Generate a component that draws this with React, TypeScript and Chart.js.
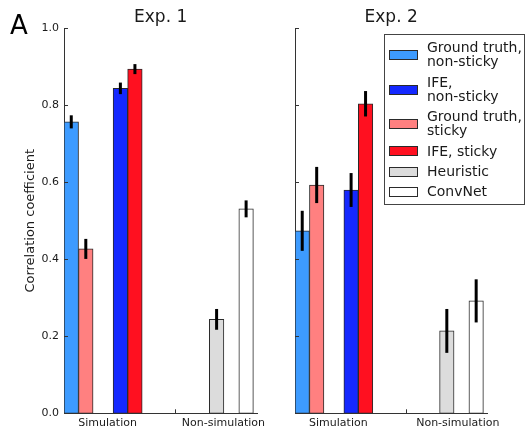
import React, { useEffect, useRef } from 'react';
import { Chart, registerables } from 'chart.js';

Chart.register(...registerables);

const FONT = "'DejaVu Sans', 'Bitstream Vera Sans', sans-serif";
const TEXT = '#1a1a1a';
const EDGE = '#2a2a2a';

// ---- data ----
const seriesLabels = [
  'Ground truth,\nnon-sticky',
  'IFE,\nnon-sticky',
  'Ground truth,\nsticky',
  'IFE, sticky',
  'Heuristic',
  'ConvNet',
];
const categories = ['Simulation', 'Non-simulation'];
const yTickValues = [0, 0.2, 0.4, 0.6, 0.8, 1.0];

const exp1Values = [0.757, 0.844, 0.427, 0.894, 0.244, 0.531];
const exp1Errors = [0.017, 0.015, 0.026, 0.013, 0.027, 0.022];
const exp2Values = [0.474, 0.58, 0.593, 0.804, 0.214, 0.292];
const exp2Errors = [0.052, 0.044, 0.047, 0.033, 0.057, 0.056];

// ---- styles / layout ----
const seriesColors = ['#3d9bff', '#1428ff', '#ff8080', '#ff1020', '#dcdcdc', '#ffffff'];
// bar centres along the x axis, measured in bar widths
const barCentres = [0.5, 3.88, 1.5, 4.88, 10.5, 12.53];
const exp1LabelPositions = [3.0, 10.97];
const exp2LabelPositions = [3.0, 11.26];
const dividerTick = 7.66;
const X_MAX = 13.3;
const H = 429;

type PanelProps = {
  title: string;
  values: number[];
  errors: number[];
  labelPositions: number[];
  left: number;
  width: number;
  yAxisWidth: number;
  padRight: number;
  first: boolean;
};

function Panel(props: PanelProps) {
  const ref = useRef<HTMLCanvasElement>(null);
  useEffect(() => {
    const { title, values, errors, labelPositions, yAxisWidth, padRight, first } = props;
    const canvas = ref.current as HTMLCanvasElement;

    const datasets = seriesLabels.map((label, i) => ({
      label,
      data: [{ x: barCentres[i], y: values[i] }],
      backgroundColor: seriesColors[i],
      borderColor: EDGE,
      borderWidth: 1,
      borderSkipped: false,
      grouped: false,
      barPercentage: 1,
      categoryPercentage: 1,
    }));

    const errorBars = {
      id: 'errorBars',
      afterDatasetsDraw(chart: any) {
        const ys = chart.scales.y;
        const ctx = chart.ctx;
        ctx.save();
        ctx.strokeStyle = '#000';
        ctx.lineWidth = 3;
        chart.data.datasets.forEach((_: any, i: number) => {
          const bar = chart.getDatasetMeta(i).data[0];
          if (!bar) return;
          ctx.beginPath();
          ctx.moveTo(bar.x, ys.getPixelForValue(values[i] + errors[i]));
          ctx.lineTo(bar.x, ys.getPixelForValue(values[i] - errors[i]));
          ctx.stroke();
        });
        ctx.restore();
      },
    };

    const inwardTicks = {
      id: 'inwardTicks',
      afterDraw(chart: any) {
        const { ctx, chartArea } = chart;
        const ys = chart.scales.y;
        const xs = chart.scales.x;
        ctx.save();
        ctx.strokeStyle = '#333';
        ctx.lineWidth = 1;
        ys.ticks.forEach((t: any) => {
          const py = Math.round(ys.getPixelForValue(t.value)) + 0.5;
          ctx.beginPath();
          ctx.moveTo(chartArea.left, py);
          ctx.lineTo(chartArea.left + 4, py);
          ctx.stroke();
        });
        const px = Math.round(xs.getPixelForValue(dividerTick)) + 0.5;
        ctx.beginPath();
        ctx.moveTo(px, chartArea.bottom);
        ctx.lineTo(px, chartArea.bottom - 4);
        ctx.stroke();
        ctx.restore();
      },
    };

    const panelLetter = {
      id: 'panelLetter',
      afterDraw(chart: any) {
        if (!first) return;
        const ctx = chart.ctx;
        ctx.save();
        ctx.fillStyle = '#000';
        ctx.font = `26px ${FONT}`;
        ctx.textBaseline = 'alphabetic';
        ctx.textAlign = 'left';
        ctx.fillText('A', 10, 34);
        ctx.restore();
      },
    };

    const boxLegend = {
      id: 'boxLegend',
      afterDraw(chart: any) {
        if (first) return;
        const { ctx, chartArea } = chart;
        const lh = 14.4;
        const gap = 5.7;
        const right = chart.width - 1.5;
        const left = right - 140;
        const top = chartArea.top + 5.7;
        const items = chart.data.datasets.map((d: any) => ({
          lines: String(d.label).split('\n'),
          color: d.backgroundColor,
        }));
        let h = 6.3 + 5.3;
        items.forEach((it: any, i: number) => {
          h += it.lines.length * lh + (i > 0 ? gap : 0);
        });
        ctx.save();
        ctx.fillStyle = '#fff';
        ctx.fillRect(Math.round(left) + 0.5, Math.round(top) + 0.5, 140, Math.round(h));
        ctx.strokeStyle = '#444';
        ctx.lineWidth = 1;
        ctx.strokeRect(Math.round(left) + 0.5, Math.round(top) + 0.5, 140, Math.round(h));
        ctx.font = `14px ${FONT}`;
        ctx.textBaseline = 'alphabetic';
        ctx.textAlign = 'left';
        let y = top + 6.3;
        items.forEach((it: any, i: number) => {
          if (i > 0) y += gap;
          const eh = it.lines.length * lh;
          const cy = y + eh / 2;
          ctx.fillStyle = it.color;
          ctx.fillRect(Math.round(left + 5) + 0.5, Math.round(cy - 4.5) + 0.5, 28, 9);
          ctx.strokeStyle = EDGE;
          ctx.strokeRect(Math.round(left + 5) + 0.5, Math.round(cy - 4.5) + 0.5, 28, 9);
          ctx.fillStyle = TEXT;
          it.lines.forEach((ln: string, k: number) => {
            const base = cy - (lh / 2) * (it.lines.length - 1) + k * lh + 4.5;
            ctx.fillText(ln, left + 43.5, base);
          });
          y += eh;
        });
        ctx.restore();
      },
    };

    const chart = new Chart(canvas, {
      type: 'bar',
      data: { datasets: datasets as any },
      plugins: [errorBars, inwardTicks, panelLetter, boxLegend],
      options: {
        responsive: false,
        maintainAspectRatio: false,
        animation: false,
        devicePixelRatio: 1,
        layout: { padding: { left: 0, top: 0, bottom: 0, right: padRight } },
        plugins: {
          legend: { display: false },
          tooltip: { enabled: false },
          title: {
            display: true,
            text: title,
            color: TEXT,
            fullSize: false,
            font: { family: FONT, size: 17, weight: 'normal', lineHeight: 1 },
            padding: { top: 9.4, bottom: 1.9 },
          },
        },
        scales: {
          x: {
            type: 'linear',
            min: 0,
            max: X_MAX,
            offset: false,
            grid: { display: false, drawTicks: false },
            border: { display: true, color: '#333', width: 1 },
            afterBuildTicks: (s: any) => {
              s.ticks = [
                { value: labelPositions[0] },
                { value: dividerTick },
                { value: labelPositions[1] },
              ];
            },
            ticks: {
              autoSkip: false,
              maxRotation: 0,
              minRotation: 0,
              padding: 3.4,
              color: TEXT,
              font: { family: FONT, size: 11 },
              callback: (v: any) => {
                const idx = labelPositions.indexOf(Number(v));
                return idx >= 0 ? categories[idx] : '';
              },
            },
            afterFit: (s: any) => {
              s.height = 15.7;
            },
          },
          y: {
            type: 'linear',
            min: 0,
            max: 1,
            grid: { display: false, drawTicks: false },
            border: { display: true, color: '#333', width: 1 },
            afterBuildTicks: (s: any) => {
              s.ticks = yTickValues.map((value) => ({ value }));
            },
            ticks: {
              display: first,
              padding: 5,
              color: TEXT,
              font: { family: FONT, size: 11 },
              callback: (v: any) => Number(v).toFixed(1),
            },
            title: {
              display: first,
              text: 'Correlation coefficient',
              color: TEXT,
              font: { family: FONT, size: 13 },
              padding: { top: 23, bottom: 0 },
            },
            afterFit: (s: any) => {
              s.width = yAxisWidth;
            },
          },
        },
      } as any,
    });
    return () => chart.destroy();
  }, []);

  return (
    <canvas
      ref={ref}
      width={props.width}
      height={H}
      style={{ position: 'absolute', left: props.left, top: 0, width: props.width, height: H }}
    />
  );
}

export default function App() {
  return (
    <div style={{ position: 'absolute', left: 0, top: 0, width: 525, height: H, background: '#fff' }}>
      <Panel
        title="Exp. 1"
        values={exp1Values}
        errors={exp1Errors}
        labelPositions={exp1LabelPositions}
        left={0}
        width={280}
        yAxisWidth={64}
        padRight={22.7}
        first={true}
      />
      <Panel
        title="Exp. 2"
        values={exp2Values}
        errors={exp2Errors}
        labelPositions={exp2LabelPositions}
        left={280}
        width={245}
        yAxisWidth={15}
        padRight={37.7}
        first={false}
      />
    </div>
  );
}
